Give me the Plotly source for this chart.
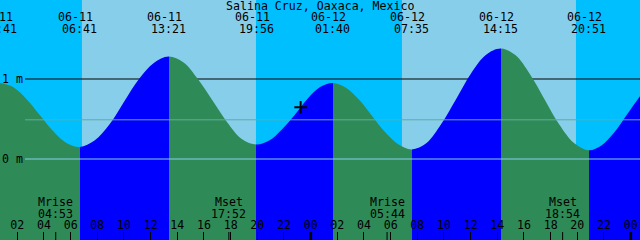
import plotly.graph_objects as go

# ---------------- data (hours counted from 06-11 00:00 local) ----------------
station = "Salina Cruz, Oaxaca, Mexico"

event_times = [0.683, 6.683, 13.35, 19.933, 25.667, 31.583, 38.25, 44.85]
event_dates = ["06-11", "06-11", "06-11", "06-11", "06-12", "06-12", "06-12", "06-12"]
event_clock = ["00:41", "06:41", "13:21", "19:56", "01:40", "07:35", "14:15", "20:51"]
event_heights = [0.95, 0.15, 1.28, 0.18, 0.95, 0.12, 1.38, 0.11]

curve_t = [0.683, 1.683, 2.683, 3.683, 4.683, 5.683,
           6.683, 7.794, 8.906, 10.017, 11.128, 12.239,
           13.35, 14.447, 15.544, 16.642, 17.739, 18.836,
           19.933, 20.889, 21.844, 22.8, 23.756, 24.711,
           25.667, 26.653, 27.639, 28.625, 29.611, 30.597,
           31.583, 32.694, 33.806, 34.917, 36.028, 37.139,
           38.25, 39.35, 40.45, 41.55, 42.65, 43.75,
           44.85, 45.81, 46.77, 47.73, 48.69, 49.0]
curve_h = [0.95, 0.90, 0.75, 0.55, 0.35, 0.20,
           0.15, 0.23, 0.43, 0.72, 1.00, 1.20,
           1.28, 1.21, 1.00, 0.73, 0.46, 0.25,
           0.18, 0.23, 0.37, 0.55, 0.75, 0.90,
           0.95, 0.89, 0.74, 0.535, 0.33, 0.18,
           0.12, 0.20, 0.44, 0.75, 1.07, 1.30,
           1.38, 1.30, 1.06, 0.745, 0.43, 0.20,
           0.11, 0.17, 0.33, 0.555, 0.78, 0.84]

sunrise = [6.85, 30.85]
sunset = [19.9, 43.9]

moon_times = [4.883, 17.867, 29.733, 42.9]
moon_names = ["Mrise", "Mset", "Mrise", "Mset"]
moon_clock = ["04:53", "17:52", "05:44", "18:54"]

hour_ticks = [2, 4, 6, 8, 10, 12, 14, 16, 18, 20, 22, 24,
              26, 28, 30, 32, 34, 36, 38, 40, 42, 44, 46, 48]
hour_text = ["02", "04", "06", "08", "10", "12", "14", "16", "18", "20", "22", "00",
             "02", "04", "06", "08", "10", "12", "14", "16", "18", "20", "22", "00"]
midnights = [24, 48]

level_values = [1, 0]
level_labels = ["1 m", "0 m"]
mean_level = 0.49

now_t = 23.25
now_h = 0.646

x_start, x_end = 0.7025, 48.7025
y_low, y_high = -1.0125, 1.9875

# ---------------- styling ----------------
FONT = "DejaVu Sans Mono"
FS = 11.6
DAY_SKY = "#87CEEB"
NIGHT_SKY = "#00BFFF"
EBB = "#2E8B57"
FLOOD = "#0000FF"
W, H = 640, 240
PX_PER_H = W / (x_end - x_start)


def frac(t):
    return (t - x_start) / (x_end - x_start)


# gradient stops: falling (ebb) green, rising (flood) blue
stops = []
state_colors = []
prev_color = None
segs = []
bounds = [x_start] + [t for t in event_times if x_start < t < x_end] + [x_end]
inner = [i for i, t in enumerate(event_times) if x_start < t < x_end]
# colour of each span between boundaries
span_colors = []
for k in range(len(bounds) - 1):
    if k < len(inner):
        i = inner[k]
        col = EBB if event_heights[i] < event_heights[i - 1] else FLOOD
    else:
        i = inner[-1]
        col = FLOOD if event_heights[i] < event_heights[i - 1] else EBB
    span_colors.append(col)
for k, col in enumerate(span_colors):
    stops.append([frac(bounds[k]), col])
    stops.append([frac(bounds[k + 1]), col])
stops[0][0] = 0.0
stops[-1][0] = 1.0

fig = go.Figure()
fig.add_trace(go.Scatter(x=[curve_t[0], curve_t[-1]], y=[y_low - 0.2, y_low - 0.2],
                         mode="lines", line=dict(width=0), hoverinfo="skip"))
fig.add_trace(go.Scatter(x=curve_t, y=curve_h, mode="lines",
                         line=dict(width=0, shape="spline", color=EBB),
                         fill="tonexty", fillcolor=EBB,
                         fillgradient=dict(type="horizontal", colorscale=stops,
                                           start=x_start, stop=x_end),
                         hoverinfo="skip"))
fig.add_trace(go.Scatter(x=[now_t], y=[now_h], mode="markers",
                         marker=dict(symbol="cross-thin", size=9, color="black",
                                     line=dict(width=2, color="black")),
                         hoverinfo="skip"))

shapes = []
for sr, ss in zip(sunrise, sunset):
    shapes.append(dict(type="rect", xref="x", yref="paper", x0=sr, x1=ss, y0=0, y1=1,
                       fillcolor=DAY_SKY, line=dict(width=0), layer="below"))
shapes.append(dict(type="line", xref="paper", yref="y", x0=25 / W, x1=1,
                   y0=level_values[0], y1=level_values[0],
                   line=dict(color="black", width=1), layer="below"))
shapes.append(dict(type="line", xref="paper", yref="y", x0=25 / W, x1=1,
                   y0=mean_level, y1=mean_level,
                   line=dict(color="#64AAA0", width=1), layer="above"))
shapes.append(dict(type="line", xref="paper", yref="y", x0=25 / W, x1=1,
                   y0=level_values[1], y1=level_values[1],
                   line=dict(color=DAY_SKY, width=1), layer="above"))
for mt in moon_times:
    shapes.append(dict(type="line", xref="x", yref="paper", x0=mt, x1=mt,
                       y0=0, y1=8 / H, line=dict(color="black", width=1), layer="above"))
for md in midnights:
    shapes.append(dict(type="line", xref="x", yref="paper", x0=md, x1=md,
                       y0=0, y1=8 / H, line=dict(color="black", width=3), layer="above"))

ann = []
f = dict(family=FONT, size=FS, color="black")


def add_text(t, text, ypx, xshift=0):
    if t < x_start:
        xshift += (t - x_start) * PX_PER_H
        t = x_start
    ann.append(dict(x=t, xref="x", y=1 - ypx / H, yref="paper", text=text,
                    showarrow=False, font=f, xanchor="center", yanchor="middle",
                    xshift=xshift))


ann.append(dict(x=0.5, xref="paper", y=1 - 5.5 / H, yref="paper", text=station,
                showarrow=False, font=f, xanchor="center", yanchor="middle"))
for t, d, c in zip(event_times, event_dates, event_clock):
    add_text(t, d, 17, xshift=-4)
    add_text(t, c, 29)
for t, n, c in zip(moon_times, moon_names, moon_clock):
    add_text(t, n, 202)
    add_text(t, c, 214)
for v, lab in zip(level_values, level_labels):
    ann.append(dict(x=0, xref="paper", y=v, yref="y", text=lab, showarrow=False,
                    font=f, xanchor="left", yanchor="middle", xshift=0))

fig.update_layout(
    width=W, height=H, margin=dict(l=0, r=0, t=0, b=0),
    paper_bgcolor=NIGHT_SKY, plot_bgcolor=NIGHT_SKY, showlegend=False,
    shapes=shapes, annotations=ann,
    xaxis=dict(range=[x_start, x_end], showgrid=False, zeroline=False, showline=False,
               tickvals=hour_ticks, ticktext=hour_text, ticks="inside", ticklen=8,
               tickwidth=1, tickcolor="black", ticklabelposition="inside",
               tickfont=f, fixedrange=True),
    yaxis=dict(range=[y_low, y_high], showgrid=False, zeroline=False, showline=False,
               showticklabels=False, ticks="", fixedrange=True),
)

fig.write_html("out.html")
